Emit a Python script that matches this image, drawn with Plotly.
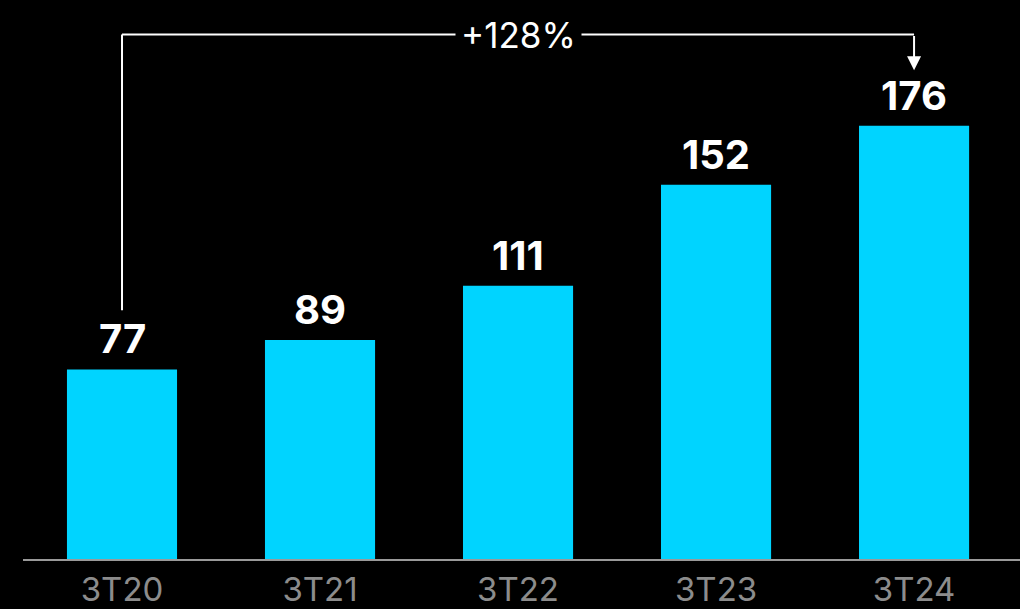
import plotly.graph_objects as go

quarters = ["3T20", "3T21", "3T22", "3T23", "3T24"]
values = [77, 89, 111, 152, 176]
growth_label = "+128%"

CYAN = "#00D4FF"
FONT = "Inter, Open Sans, Roboto, Arial, sans-serif"

fig = go.Figure(
    go.Bar(
        x=quarters, y=values, marker_color=CYAN, marker_line_width=0,
        width=0.556, hoverinfo="skip",
    )
)

# value labels above bars
for q, v in zip(quarters, values):
    fig.add_annotation(
        x=q, y=v, text=f"<b>{v}</b>", showarrow=False, yanchor="bottom", yshift=4,
        font=dict(family=FONT, size=40, color="white"),
    )

# growth bracket from first to last bar
first, last = quarters[0], quarters[-1]
top = 213
fig.add_shape(type="line", xref="x", yref="y", x0=first, x1=first,
              y0=values[0] + 24, y1=top, line=dict(color="white", width=2))
fig.add_shape(type="line", xref="x", yref="y", x0=first, x1=last,
              y0=top, y1=top, line=dict(color="white", width=2))
fig.add_annotation(
    x=last, y=values[-1] + 22.5, ax=last, ay=top, xref="x", yref="y",
    axref="x", ayref="y", text="", showarrow=True, arrowhead=2,
    arrowsize=1.4, arrowwidth=2, arrowcolor="white",
)
fig.add_annotation(
    x=quarters[2], y=top, text=growth_label, showarrow=False,
    bgcolor="black", borderpad=5,
    font=dict(family=FONT, size=35, color="white"),
)

fig.update_layout(
    width=1020, height=609,
    paper_bgcolor="black", plot_bgcolor="black",
    margin=dict(l=23, r=0, t=10, b=50),
    showlegend=False,
    xaxis=dict(
        range=[-0.5, 4.535], showline=True, linecolor="#9a9a9a", linewidth=2,
        showgrid=False, ticks="", automargin=False,
        tickfont=dict(family=FONT, size=33, color="#8c8c8c"),
        fixedrange=True,
    ),
    yaxis=dict(range=[0, 223], visible=False, fixedrange=True),
)

fig.write_html(
    "out.html",
    config=dict(displayModeBar=False),
    post_script="document.body.style.margin='0';document.body.style.background='black';",
)
